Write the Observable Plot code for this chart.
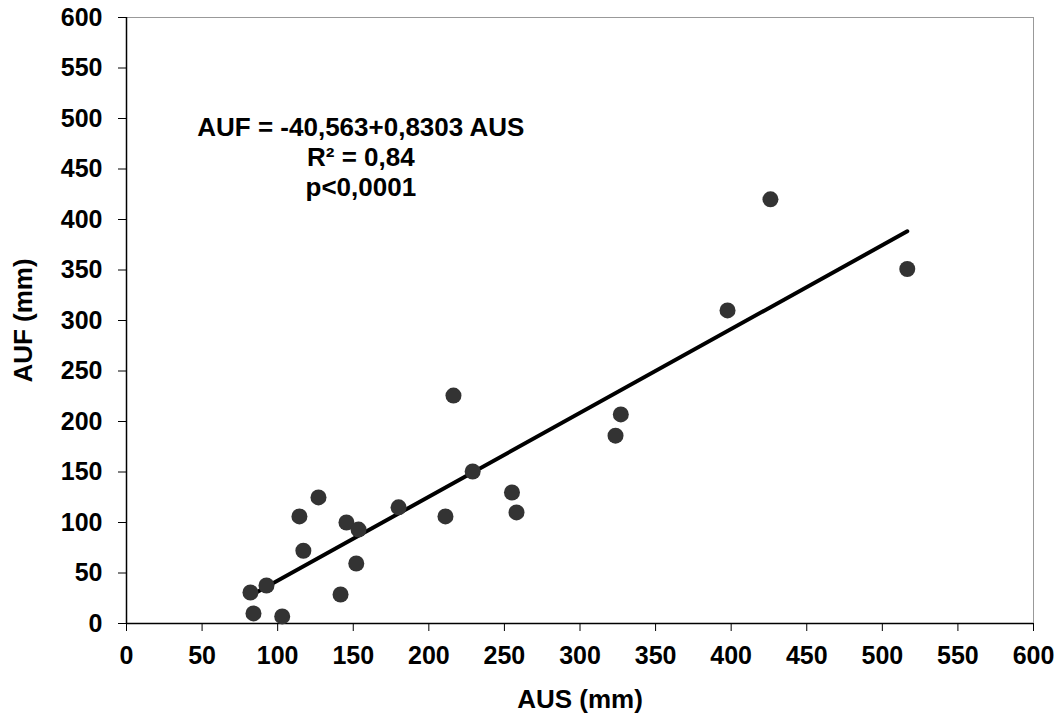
<!DOCTYPE html>
<html>
<head>
<meta charset="utf-8">
<script src="https://cdn.jsdelivr.net/npm/d3@7"></script>
<script src="https://cdn.jsdelivr.net/npm/@observablehq/plot@0.6"></script>
<style>
  html, body { margin: 0; padding: 0; background: white; }
</style>
</head>
<body>
<div id="chart"></div>
<script>
// Data
const aus = [82, 84, 92.6, 103, 114.4, 117, 127, 141.6, 145.5, 152, 153.5, 180, 211, 216.3, 229, 255, 258, 323.5, 327, 397.6, 426, 516.5];
const auf = [30.7, 10, 37.6, 7, 106, 72, 124.8, 28.7, 100, 59.4, 93, 115, 106, 225.7, 150.5, 129.7, 110, 186, 207, 310, 420, 351];
const intercept = -40.563;
const slope = 0.8303;
const xTicks = [0, 50, 100, 150, 200, 250, 300, 350, 400, 450, 500, 550, 600];
const yTicks = [0, 50, 100, 150, 200, 250, 300, 350, 400, 450, 500, 550, 600];
const xTitle = "AUS (mm)";
const yTitle = "AUF (mm)";
const annotation = ["AUF = -40,563+0,8303 AUS", "R² = 0,84", "p<0,0001"];

const points = aus.map((x, i) => ({x, y: auf[i]}));
const ext = d3.extent(aus);
const fitLine = ext.map(x => ({x, y: intercept + slope * x}));

const chart = Plot.plot({
  width: 1057,
  height: 716,
  marginTop: 17,
  marginRight: 24,
  marginBottom: 93,
  marginLeft: 126,
  style: {fontFamily: "'Liberation Sans', Arial, sans-serif", fontWeight: "bold", fontSize: "25px", color: "black", background: "white"},
  x: {domain: [0, 600]},
  y: {domain: [0, 600]},
  marks: [
    Plot.frame({stroke: "#999"}),
    Plot.axisX({ticks: xTicks, tickSize: 8, tickPadding: 15, fontSize: 25, tickFormat: d => String(d), label: null}),
    Plot.axisY({ticks: yTicks, tickSize: 8, tickPadding: 16, fontSize: 25, tickFormat: d => String(d), label: null}),
    Plot.text([xTitle], {frameAnchor: "bottom", dy: 76, textAnchor: "middle", lineAnchor: "middle", fontSize: 26, fontWeight: "bold", fill: "black"}),
    Plot.text([yTitle], {frameAnchor: "left", dx: -103, rotate: -90, textAnchor: "middle", lineAnchor: "middle", fontSize: 26, fontWeight: "bold", fill: "black"}),
    Plot.ruleX([0], {stroke: "black", strokeWidth: 1.5}),
    Plot.ruleY([0], {stroke: "black", strokeWidth: 1.5}),
    Plot.line(fitLine, {x: "x", y: "y", stroke: "black", strokeWidth: 4}),
    Plot.dot(points, {x: "x", y: "y", r: 8, fill: "#333", stroke: "none"}),
    Plot.text([annotation.join("\n")], {x: 155, y: 462, text: d => d, textAnchor: "middle", lineHeight: 1.154, fontSize: 26, fontWeight: "bold", fill: "black"})
  ]
});
document.getElementById("chart").appendChild(chart);
</script>
</body>
</html>
